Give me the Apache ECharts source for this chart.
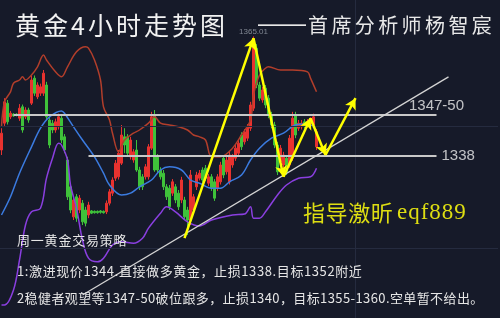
<!DOCTYPE html>
<html><head><meta charset="utf-8">
<script src="https://cdn.jsdelivr.net/npm/echarts@6/dist/echarts.min.js"></script>
<style>html,body{margin:0;padding:0;background:#161a29;}#c{width:500px;height:318px;}</style>
</head><body><div id="c"></div>
<script>
// ---- data (prices) ----
// each candle: [open, close, low, high]
const candles = [
[1340.0,1343.7,1338.9,1344.8],[1345.9,1350.6,1345.3,1351.4],[1350.3,1346.2,1345.6,1351.0],[1347.3,1348.1,1346.8,1348.6],
[1347.9,1347.5,1347.3,1348.1],[1347.9,1347.6,1347.4,1348.1],[1347.0,1349.2,1346.4,1350.1],[1349.5,1344.4,1343.8,1350.0],
[1347.3,1348.8,1346.8,1349.4],[1348.8,1346.6,1346.0,1349.3],[1350.3,1355.4,1349.9,1356.3],[1355.8,1352.5,1351.9,1356.4],
[1351.7,1354.3,1351.2,1354.9],[1352.5,1353.9,1351.9,1354.6],[1352.5,1356.9,1351.9,1357.6],[1354.3,1347.3,1346.6,1355.0],
[1346.6,1341.1,1340.4,1347.3],[1345.9,1344.4,1343.7,1346.6],[1344.4,1346.2,1343.8,1346.9],[1345.1,1347.3,1344.5,1348.0],
[1347.0,1342.2,1341.5,1347.7],[1342.9,1340.0,1339.3,1343.5],[1337.8,1329.7,1329.0,1338.5],[1331.9,1326.8,1326.1,1332.5],
[1325.3,1329.0,1324.6,1329.7],[1329.7,1325.0,1324.2,1330.3],[1326.8,1329.4,1326.1,1330.1],[1328.3,1324.2,1323.5,1329.0],
[1326.8,1323.9,1323.2,1327.5],[1325.7,1327.9,1325.0,1328.6],[1326.6,1326.1,1325.9,1326.8],[1326.5,1326.2,1326.0,1326.7],
[1326.5,1326.2,1326.0,1326.7],[1326.6,1326.3,1326.0,1326.8],[1326.5,1326.2,1326.0,1326.7],[1326.4,1328.3,1325.9,1328.9],
[1328.3,1330.8,1327.8,1331.4],[1330.5,1333.4,1329.9,1334.0],[1333.8,1337.1,1333.2,1337.8],[1334.1,1339.3,1333.5,1340.0],
[1337.1,1343.3,1336.7,1345.5],[1342.9,1341.1,1339.3,1344.8],[1342.9,1339.3,1338.7,1343.5],[1338.5,1342.2,1337.9,1342.9],
[1337.8,1339.6,1337.2,1340.2],[1340.0,1335.6,1335.2,1342.2],[1335.6,1331.9,1331.2,1336.3],[1334.1,1331.9,1331.2,1334.7],
[1334.1,1336.3,1333.5,1336.9],[1334.1,1340.7,1333.5,1341.3],[1340.4,1347.3,1340.0,1348.4],[1347.7,1335.6,1335.2,1348.8],
[1338.5,1335.6,1335.0,1339.1],[1335.6,1334.1,1333.5,1336.2],[1334.9,1331.9,1331.2,1335.6],[1331.9,1329.7,1329.0,1332.5],
[1331.6,1327.5,1326.8,1332.3],[1330.5,1333.0,1329.9,1333.6],[1331.9,1329.0,1328.3,1332.5],[1330.5,1327.5,1326.8,1331.2],
[1329.0,1333.4,1328.3,1334.1],[1329.0,1325.3,1324.6,1329.7],[1326.8,1324.6,1321.3,1327.5],[1324.6,1334.5,1323.5,1335.6],
[1326.8,1329.7,1326.1,1330.3],[1331.9,1334.5,1331.2,1335.2],[1333.8,1334.9,1333.3,1335.6],[1335.6,1333.4,1332.8,1336.2],
[1336.0,1333.8,1333.2,1336.7],[1332.7,1334.1,1332.1,1334.7],[1334.1,1331.6,1331.0,1334.7],[1333.0,1329.4,1328.8,1333.6],
[1331.6,1334.1,1331.0,1334.7],[1333.0,1336.7,1332.4,1337.4],[1338.2,1334.5,1333.8,1338.9],[1335.2,1337.8,1334.6,1338.5],
[1333.0,1338.9,1332.4,1339.6],[1336.7,1338.5,1336.1,1339.1],[1338.2,1340.4,1337.6,1341.1],[1339.3,1341.5,1338.7,1342.2],
[1343.3,1340.7,1340.0,1343.9],[1341.8,1344.0,1341.2,1344.6],[1342.6,1345.1,1342.0,1345.7],[1344.8,1349.9,1344.2,1350.6],
[1349.2,1363.8,1348.6,1365.0],[1362.4,1354.3,1353.6,1363.3],[1354.3,1351.4,1350.8,1355.0],[1351.0,1353.2,1350.4,1353.9],
[1353.6,1349.9,1349.2,1354.3],[1351.4,1347.7,1347.0,1352.1],[1347.7,1345.5,1344.8,1348.4],[1345.5,1341.1,1340.4,1346.2],
[1341.1,1335.2,1334.5,1341.8],[1337.4,1340.4,1336.8,1341.1],[1336.7,1338.9,1336.1,1339.6],[1338.2,1335.2,1334.5,1338.9],
[1336.7,1342.6,1336.1,1343.3],[1338.2,1347.0,1337.6,1348.4],[1347.7,1343.3,1342.6,1348.4],[1344.8,1345.9,1344.2,1346.6],
[1345.1,1345.9,1344.5,1346.6],[1346.2,1345.3,1344.7,1346.8],[1345.5,1346.2,1344.9,1346.8],[1345.7,1346.6,1345.1,1347.2],
[1345.5,1347.3,1344.9,1348.0],[1340.7,1344.0,1340.0,1344.6]
];
// Bollinger bands: [candle index, price]
const upperBand = [[0,1345.1],[1,1350.6],[3,1352.8],[4,1354.7],[6,1355.4],[7,1356.1],[8,1355.4],[10,1356.5],[12,1358.3],[14,1360.9],[15,1359.8],[18,1357.2],[20,1356.1],[22,1358.3],[25,1361.6],[28,1362.7],[29,1362.4],[31,1359.8],[33,1355.4],[34,1349.5],[36,1346.6],[37,1343.7],[39,1339.6],[41,1342.2],[44,1343.7],[46,1344.4],[49,1345.9],[51,1347.3],[53,1345.9],[56,1345.5],[59,1345.1],[62,1344.4],[64,1343.3],[66,1342.9],[68,1342.2],[70,1338.5],[73,1338.5],[77,1340.4],[80,1343.3],[83,1346.6],[84,1352.1],[86,1356.5],[88,1358.0],[89,1358.3],[93,1357.6],[97,1357.6],[102,1357.2],[103,1355.8],[105,1352.8]];
const midBand = [[0,1325.7],[3,1329.7],[6,1334.9],[10,1340.7],[13,1344.8],[16,1347.3],[20,1348.6],[21,1348.1],[24,1345.1],[27,1342.2],[31,1338.5],[34,1334.9],[36,1332.3],[40,1330.1],[43,1330.5],[46,1331.9],[50,1333.4],[53,1335.6],[56,1336.3],[60,1335.6],[63,1333.4],[66,1332.7],[70,1331.6],[73,1331.6],[76,1333.0],[80,1334.5],[83,1337.8],[86,1340.4],[90,1342.6],[94,1343.7],[98,1345.5],[102,1345.7],[104,1345.1]];
const lowerBand = [[0,1305.9],[1,1305.9],[4,1309.2],[6,1315.8],[8,1323.5],[10,1326.4],[13,1327.2],[15,1333.8],[17,1338.2],[19,1341.5],[20,1341.1],[22,1337.8],[23,1332.3],[25,1327.2],[27,1320.2],[29,1316.2],[32,1315.4],[34,1316.2],[37,1319.1],[40,1319.8],[44,1319.5],[47,1320.6],[49,1322.8],[53,1326.1],[55,1327.5],[58,1326.4],[62,1324.2],[66,1323.3],[70,1324.6],[77,1325.7],[81,1325.9],[83,1327.5],[84,1325.0],[86,1325.0],[88,1326.4],[92,1330.1],[95,1332.3],[99,1333.8],[103,1334.1],[105,1336.0]];
// annotation lines: [index, price]
const resistance = [[4,1347.7],[145,1347.7]];
const support = [[29,1338.7],[145,1338.7]];
const trendLine = [[27,1308.1],[149,1356.1]];
const zigzag = [[61,1320.6],[84,1364.6],[94,1334.1],[103,1347.0],[108,1338.9],[118,1351.4]];
const peakMark = [84,1365.0];
const peakLabel = '1365.01';
const resistanceLabel = '1347-50';
const supportLabel = '1338';
const gridPrices = [1345.3,1318.4];
const gridIndexes = [118];
const NCAT = 166;
const categories = Array.from({length:NCAT},(_,i)=>String(i));

const title = '黄金4小时走势图';
const subDash = '——';
const subName = '首席分析师杨智宸';
const promoCJK = '指导激昕';
const promoLatin = 'eqf889';
const notes = ['周一黄金交易策略','1:激进现价1344.直接做多黄金，止损1338.目标1352附近','2稳健者观望等1347-50破位跟多，止损1340，目标1355-1360.空单暂不给出。'];

// ---- text helper ----
const CJK = '"Noto Sans CJK SC"';
const mctx = document.createElement('canvas').getContext('2d');
function spaced(str, x, y, size, family, color, gap){
  const font = 'normal ' + size + 'px ' + family;
  mctx.font = font;
  const out = []; let cx = x;
  for (const ch of str){
    out.push({type:'text', x:cx, y:y, silent:true, z:100,
      style:{text:ch, font:font, fill:color, align:'left', verticalAlign:'middle'}});
    cx += mctx.measureText(ch).width + gap;
  }
  return out;
}
const graphics = [].concat(
  spaced(title, 15, 25, 25, CJK, '#f2f2f2', 3),
  spaced(subDash, 258, 24, 24, '"Liberation Sans"', '#e8e8e8', 0),
  spaced(subName, 308, 25, 20, CJK, '#e8e8e8', 3.4),
  spaced(promoCJK, 303, 213, 22, CJK, '#dede12', 0.6),
  spaced(promoLatin, 397, 213, 23, '"Liberation Serif"', '#dede12', 1),
  spaced(notes[0], 17, 240, 13, CJK, '#e6e6e6', 0.8),
  spaced(notes[1], 17, 271, 13, CJK, '#e6e6e6', 0.6),
  spaced(notes[2], 17, 298, 13, CJK, '#e6e6e6', 0.4)
);

const chart = echarts.init(document.getElementById('c'), null, {renderer:'canvas'});
const bandSeries = (data, color) => ({type:'line', data:data, smooth:0.35, showSymbol:false, symbol:'none',
  lineStyle:{color:color, width:1.5}, z:3, silent:true});
const pair = (a,b,endSym) => [{coord:a, symbol:'none'},{coord:b, symbol:endSym}];

chart.setOption({
  backgroundColor:'#161a29',
  animation:false,
  grid:{left:0, right:2, top:0, bottom:0},
  xAxis:{type:'category', data:categories, boundaryGap:true, show:false},
  yAxis:{type:'value', min:1303.04, max:1373, show:false, splitLine:{show:false}},
  graphic:graphics,
  series:[
    {type:'line', data:[], z:1, silent:true,
      markLine:{silent:true, symbol:['none','none'], label:{show:false},
        lineStyle:{color:'#252b3f', width:1, type:'solid'},
        data: gridPrices.map(v=>({yAxis:v})).concat(gridIndexes.map(v=>({xAxis:v})))}},
    {type:'candlestick', data:candles, barWidth:2, z:2,
      itemStyle:{color:'#e8322f', color0:'#3fc23a', borderColor:'#e8322f', borderColor0:'#3fc23a', borderWidth:1}},
    bandSeries(upperBand,'#b23e2b'),
    bandSeries(midBand,'#3b7be0'),
    bandSeries(lowerBand,'#8a3fe0'),
    {type:'line', data:[], z:5, silent:true,
      markLine:{silent:true, label:{show:false}, animation:false,
        lineStyle:{color:'#c8c8c8', width:2, type:'solid'},
        data:[pair(resistance[0],resistance[1],'none'), pair(support[0],support[1],'none')]}},
    {type:'line', data:[], z:5, silent:true,
      markLine:{silent:true, label:{show:false}, animation:false,
        lineStyle:{color:'#d4d4d4', width:1.3, type:'solid'},
        data:[pair(trendLine[0],trendLine[1],'none')]}},
    {type:'line', data:[], z:6, silent:true,
      markLine:{silent:true, label:{show:false}, animation:false, symbolSize:[9,11],
        lineStyle:{color:'#ffff00', width:2.5, type:'solid'},
        data: zigzag.slice(1).map((p,i)=>pair(zigzag[i], p, 'arrow'))}},
    {type:'scatter', symbolSize:0, z:7, silent:true,
      data:[
        {value:resistance[1], label:{show:true, position:'top', distance:2, formatter:resistanceLabel, color:'#ececec', fontSize:15, fontFamily:'Liberation Sans'}},
        {value:support[1], label:{show:true, position:'right', distance:5, formatter:supportLabel, color:'#ececec', fontSize:15, fontFamily:'Liberation Sans'}},
        {value:peakMark, label:{show:true, position:'top', distance:1, formatter:peakLabel, color:'#9aa0ab', fontSize:8, fontFamily:'Liberation Sans'}}
      ]}
  ]
});
</script></body></html>
